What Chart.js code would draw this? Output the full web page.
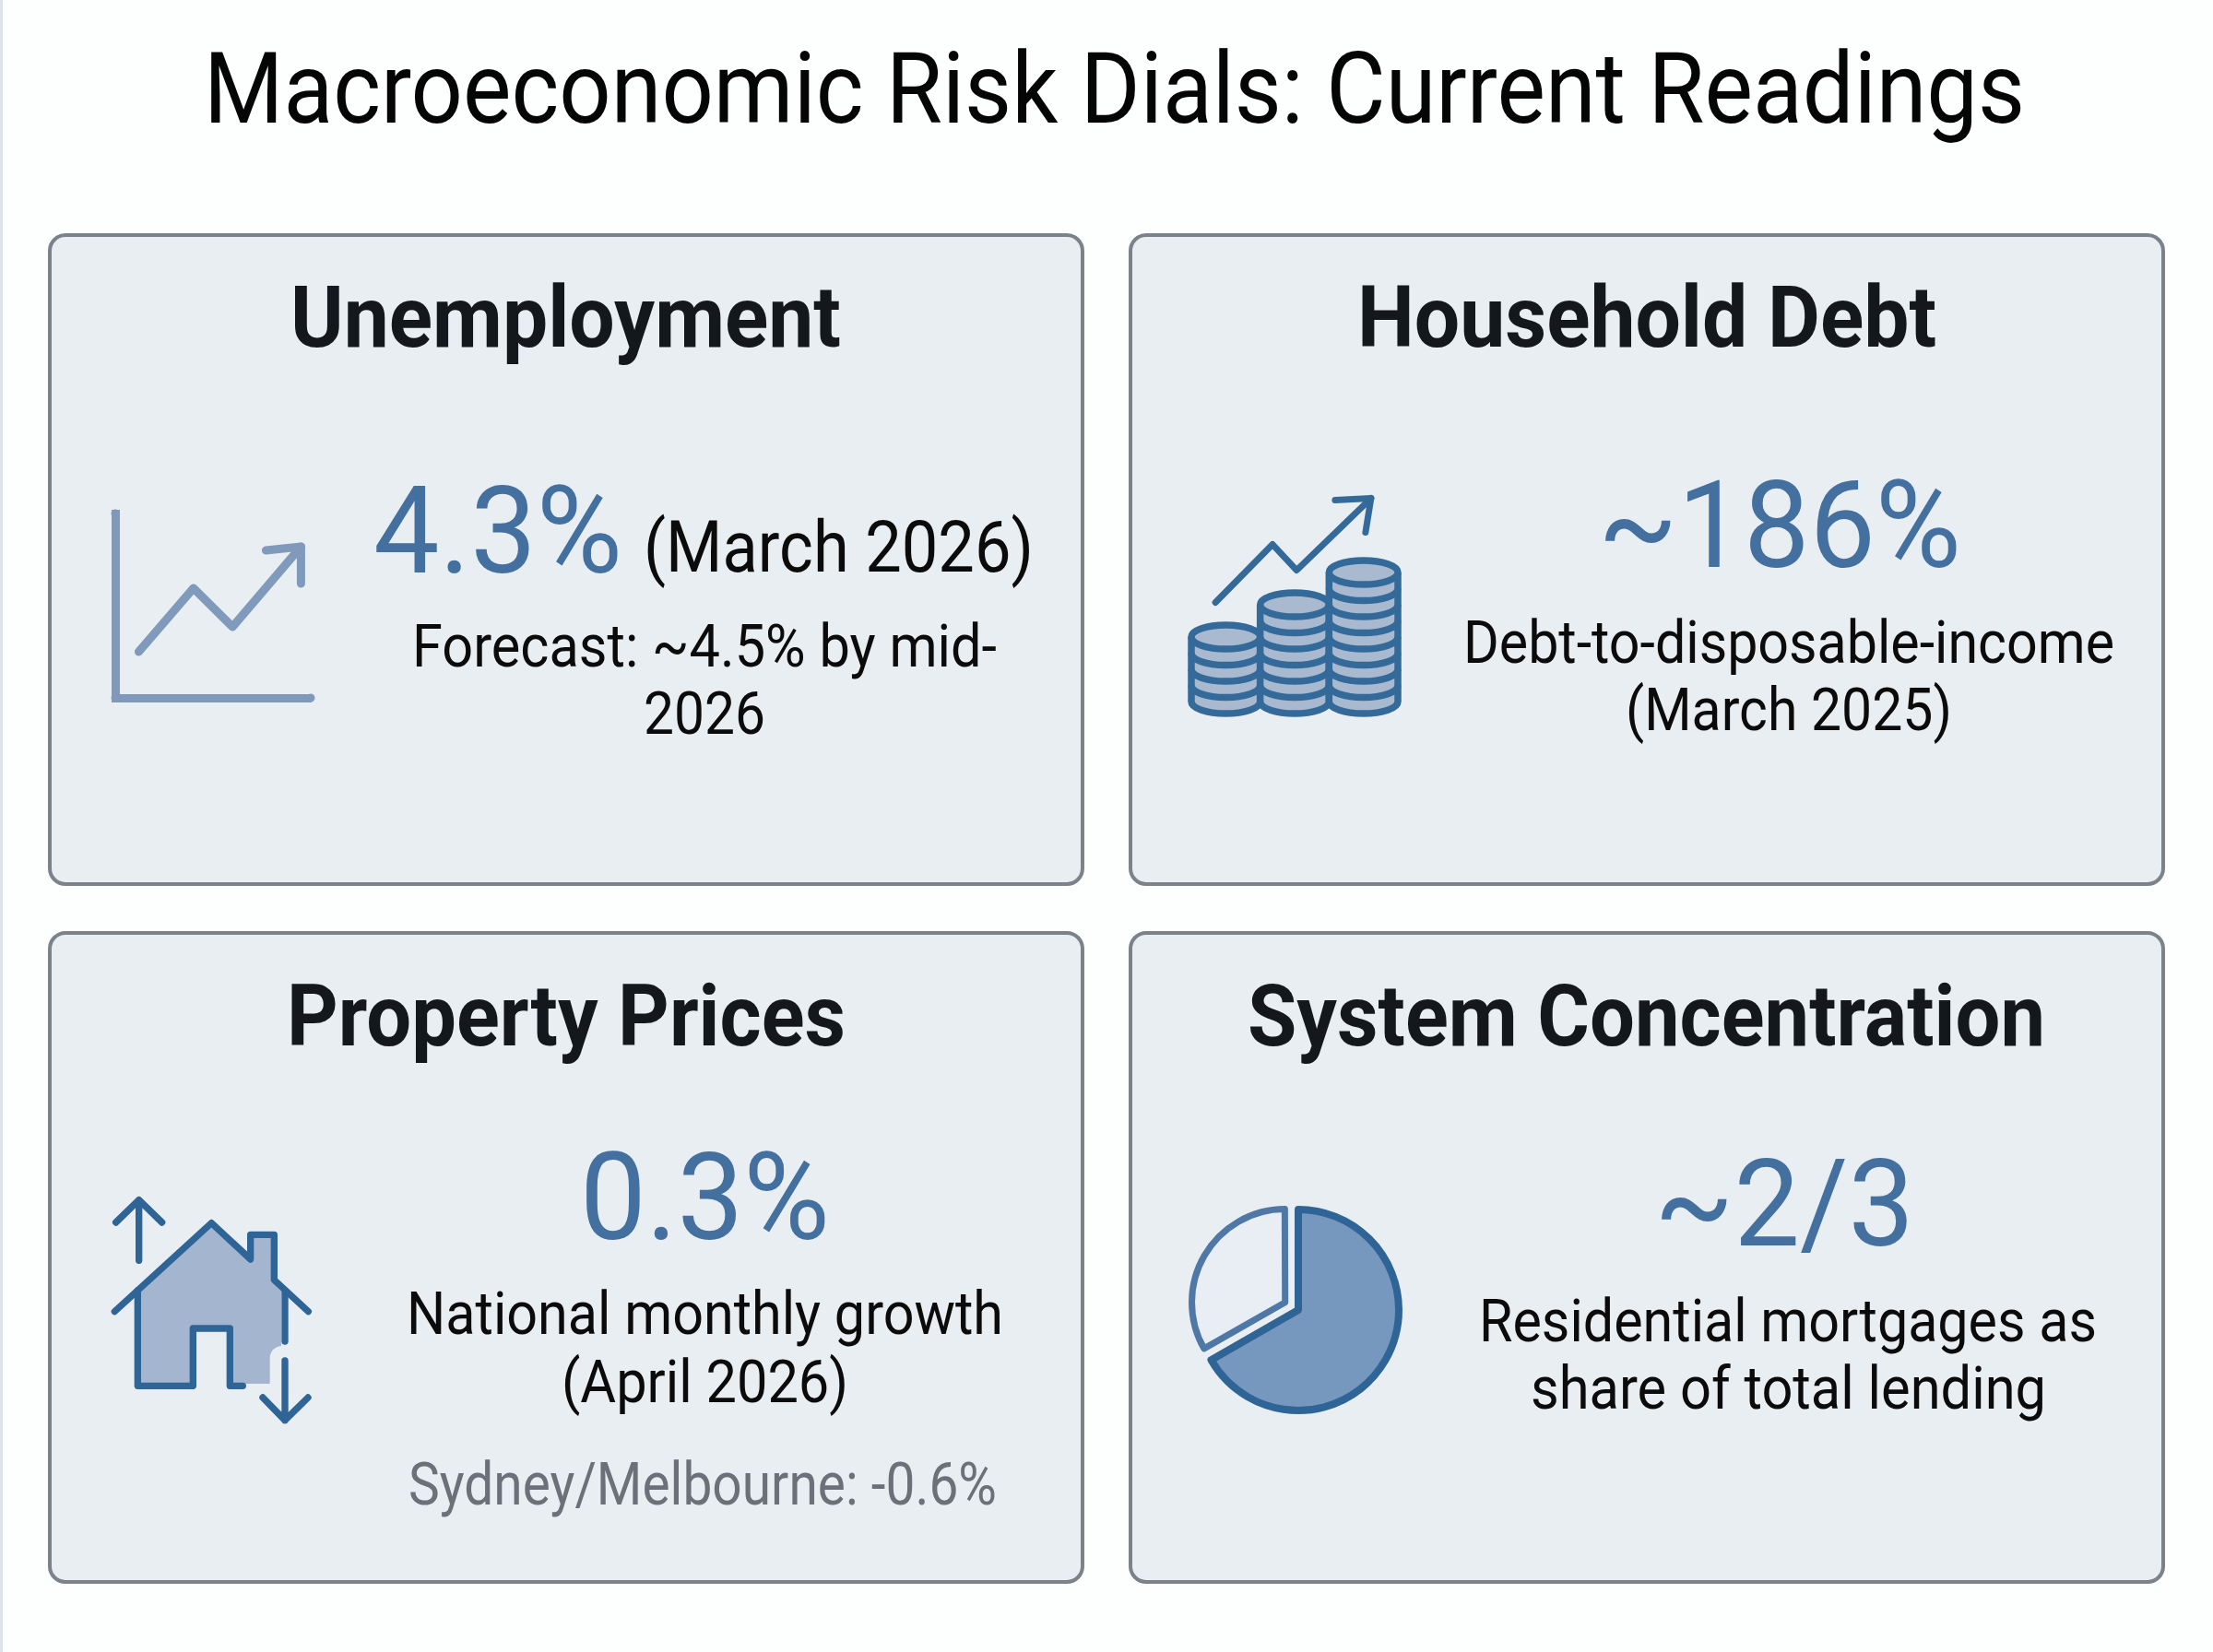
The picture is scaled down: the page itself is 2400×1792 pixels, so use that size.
<!DOCTYPE html>
<html><head><meta charset="utf-8">
<script src="https://cdn.jsdelivr.net/npm/chart.js@4/dist/chart.umd.min.js"></script>
<style>
html,body{margin:0;padding:0;background:#fdfefe;width:2400px;height:1792px;overflow:hidden}
#strip{position:absolute;left:0;top:0;width:3px;height:1792px;background:#dfe3ee}
.card{position:absolute;box-sizing:border-box;width:1124px;height:708px;background:#e9eef3;border:4px solid #7c828a;border-radius:19px}
canvas{position:absolute}
.t{position:absolute;white-space:nowrap;line-height:1;font-family:Roboto,sans-serif;transform-origin:0 0}
svg{position:absolute}
</style></head><body>
<div id="strip"></div>
<div class="card" style="left:52px;top:253px"></div>
<div class="card" style="left:1224px;top:253px"></div>
<div class="card" style="left:52px;top:1010px"></div>
<div class="card" style="left:1224px;top:1010px"></div>

<canvas id="trend" width="252" height="240" style="left:105px;top:537px;width:252px;height:240px"></canvas>
<canvas id="coins" width="264" height="295" style="left:1272px;top:496px;width:264px;height:295px"></canvas>
<canvas id="share" width="300" height="300" style="left:1258px;top:1271px;width:300px;height:300px"></canvas>

<svg style="left:90px;top:1260px" width="290" height="300" viewBox="0 0 870 900">
<path d="M178 425L418 205L545 318L555 245H612V385L645 420V600Q610 605 608 640V723H478V543H358V730H178Z" fill="#a4b5cf"/>
<g fill="none" stroke="#2f6496" stroke-width="22" stroke-linecap="round" stroke-linejoin="round">
<path d="M182 322V125M107 198L182 125L257 198"/>
<path d="M103 488L418 200L545 318V238H622V385L733 488"/>
<path d="M178 420V730H358V543H478V730H520"/>
<path d="M657 420V585"/>
<path d="M657 648V842M585 768L657 842L732 768"/>
</g></svg>

<script>
// ---- Text ----
const chartTitle = "Macroeconomic Risk Dials: Current Readings";
const cardTitles = ["Unemployment", "Household Debt", "Property Prices", "System Concentration"];
const readings = ["4.3%", "~186%", "0.3%", "~2/3"];
const readingDates = ["(March 2026)"];
const captions = ["Forecast: ~4.5% by mid-", "2026", "Debt-to-disposable-income", "(March 2025)",
  "National monthly growth", "(April 2026)", "Residential mortgages as", "share of total lending"];
const footnote = "Sydney/Melbourne: -0.6%";

// ---- Data ----
const trendX = [12, 40, 60, 95];            // Unemployment trend glyph
const trendY = [25, 59.5, 38.5, 82];
const debtStackLabels = ["a", "b", "c"];    // Household debt coin stacks
const debtStackCoins = [4, 6, 8];
const debtTrendX = [-0.15, 0.68, 1.03, 2.11];
const debtTrendY = [6.14, 9.74, 8.14, 12.6];
const shareLabels = ["Residential mortgages", "Other lending"];
const shareValues = [66.7, 33.3];

// ---- Text placement: text, left, right, baseline, size, weight, colour ----
const INK = "#0b0b0b", HEAD = "#14181c", BLUE = "#44709f", GREY = "#6b7178";
const placed = [
  [chartTitle, 221, 2196, 133, 107, 400, "#050505"],
  [cardTitles[0], 315, 912, 376, 93, 700, HEAD],
  [cardTitles[1], 1472, 2100, 376, 93, 700, HEAD],
  [cardTitles[2], 311, 917, 1134, 93, 700, HEAD],
  [cardTitles[3], 1353, 2218, 1134, 93, 700, HEAD],
  [readings[0], 405, 675, 621, 131, 400, BLUE],
  [readingDates[0], 698, 1121, 621, 77, 400, INK],
  [captions[0], 447, 1081, 724, 65, 400, INK],
  [captions[1], 698, 830, 797, 65, 400, INK],
  [readings[1], 1733, 2127, 615, 131, 400, BLUE],
  [captions[2], 1587, 2293, 719.5, 65, 400, INK],
  [captions[3], 1763, 2117, 793, 65, 400, INK],
  [readings[2], 629, 900, 1344, 131, 400, BLUE],
  [captions[4], 441, 1088, 1447.5, 65, 400, INK],
  [captions[5], 609, 920, 1521.5, 65, 400, INK],
  [footnote, 443, 1081, 1633, 65, 400, GREY],
  [readings[3], 1794, 2076, 1351, 131, 400, BLUE],
  [captions[6], 1604, 2274, 1455.5, 65, 400, INK],
  [captions[7], 1660, 2219, 1528.5, 65, 400, INK]
];
placed.forEach(([text, l, r, base, size, weight, color]) => {
  const d = document.createElement("div");
  d.className = "t";
  d.textContent = text;
  d.style.cssText = `left:${l}px;top:${base - 0.8418 * size}px;font-size:${size}px;font-weight:${weight};color:${color}`;
  document.body.appendChild(d);
  d.style.transform = `scaleX(${(r - l) / d.getBoundingClientRect().width})`;
});

// ---- Chart helpers ----
Chart.defaults.animation = false;
Chart.defaults.responsive = false;
Chart.defaults.devicePixelRatio = 1;
Chart.defaults.plugins.legend.display = false;
Chart.defaults.plugins.tooltip.enabled = false;

const arrowHead = {
  id: "arrowHead",
  afterDatasetsDraw(chart, _a, o) {
    const pts = chart.getDatasetMeta(o.dataset).data;
    const tip = pts[pts.length - 1];
    const c = chart.ctx;
    c.save();
    c.strokeStyle = o.color; c.lineWidth = o.width; c.lineCap = "round"; c.lineJoin = "round";
    c.beginPath();
    c.moveTo(tip.x + o.a[0], tip.y + o.a[1]);
    c.lineTo(tip.x, tip.y);
    c.lineTo(tip.x + o.b[0], tip.y + o.b[1]);
    c.stroke();
    c.restore();
  }
};
const axisCaps = {
  id: "axisCaps",
  beforeDatasetsDraw(chart, _a, o) {
    const { left, right, top, bottom } = chart.chartArea, c = chart.ctx;
    c.save(); c.fillStyle = o.color;
    [[left, top], [left, bottom], [right, bottom]].forEach(([x, y]) => {
      c.beginPath(); c.arc(x, y, o.r, 0, Math.PI * 2); c.fill();
    });
    c.restore();
  }
};
const coinStacks = {
  id: "coinStacks",
  afterDatasetsDraw(chart, _a, o) {
    const c = chart.ctx, y = chart.scales.y, x = chart.scales.x;
    const unit = y.getPixelForValue(0) - y.getPixelForValue(1);
    const rx = (x.getPixelForValue(1) - x.getPixelForValue(0)) / 2, ry = o.ry;
    c.save();
    c.lineWidth = o.stroke; c.strokeStyle = o.color;
    chart.getDatasetMeta(0).data.forEach((bar, i) => {
      const cx = x.getPixelForValue(i), topY = bar.y, baseY = bar.base;
      c.beginPath();
      c.moveTo(cx - rx, topY);
      c.lineTo(cx - rx, baseY);
      c.ellipse(cx, baseY, rx, ry, 0, Math.PI, 0, true);
      c.lineTo(cx + rx, topY);
      c.closePath();
      c.fillStyle = o.fill; c.fill();
      c.beginPath();
      c.moveTo(cx - rx, topY); c.lineTo(cx - rx, baseY);
      c.moveTo(cx + rx, topY); c.lineTo(cx + rx, baseY);
      c.stroke();
      for (let py = baseY; py > topY + 1; py -= unit) {
        c.beginPath(); c.ellipse(cx, py, rx, ry, 0, Math.PI, 0, true); c.stroke();
      }
      c.beginPath(); c.ellipse(cx, topY, rx, ry, 0, 0, Math.PI * 2);
      c.fill(); c.stroke();
    });
    c.restore();
  }
};
const shrinkOffsetSlice = {
  id: "shrinkOffsetSlice",
  beforeDatasetsDraw(chart, _a, o) {
    chart.getDatasetMeta(0).data[1].outerRadius = o.radius;
  }
};

// ---- Unemployment glyph ----
const TREND = "#7f9aba";
new Chart(document.getElementById("trend"), {
  type: "line",
  data: { datasets: [{
    data: trendX.map((x, i) => ({ x, y: trendY[i] })),
    borderColor: TREND, borderWidth: 9, pointRadius: 0, tension: 0,
    borderCapStyle: "round", borderJoinStyle: "round"
  }] },
  options: {
    layout: { padding: 20 },
    scales: {
      x: { type: "linear", min: 0, max: 100, ticks: { display: false },
           grid: { display: false, drawTicks: false }, border: { color: "#8099ba", width: 9 } },
      y: { min: 0, max: 100, ticks: { display: false },
           grid: { display: false, drawTicks: false }, border: { color: "#8099ba", width: 9 } }
    },
    plugins: {
      arrowHead: { dataset: 0, color: TREND, width: 9, a: [-38, 4], b: [0, 40] },
      axisCaps: { color: "#8099ba", r: 4.5 }
    }
  },
  plugins: [arrowHead, axisCaps]
});

// ---- Household debt glyph ----
const DEBT = "#336a9a";
new Chart(document.getElementById("coins"), {
  data: {
    labels: debtStackLabels,
    datasets: [
      { type: "bar", data: debtStackCoins, backgroundColor: "rgba(0,0,0,0)",
        barPercentage: 1, categoryPercentage: 1, grouped: false, order: 2 },
      { type: "line", xAxisID: "x2", order: 1,
        data: debtTrendX.map((x, i) => ({ x, y: debtTrendY[i] })),
        borderColor: DEBT, borderWidth: 7, pointRadius: 0, tension: 0,
        borderCapStyle: "round", borderJoinStyle: "round" }
    ]
  },
  options: {
    layout: { padding: { left: 20, right: 20, top: 20, bottom: 30 } },
    scales: {
      x: { display: false, offset: true },
      x2: { type: "linear", display: false, min: -0.5, max: 2.5 },
      y: { display: false, min: 0, max: 14 }
    },
    plugins: {
      arrowHead: { dataset: 1, color: DEBT, width: 7, a: [-39, 2], b: [-6, 37] },
      coinStacks: { color: DEBT, fill: "#a9b9cf", stroke: 7.5, ry: 13 }
    }
  },
  plugins: [coinStacks, arrowHead]
});

// ---- System concentration pie ----
new Chart(document.getElementById("share"), {
  type: "pie",
  data: {
    labels: shareLabels,
    datasets: [{
      data: shareValues,
      backgroundColor: ["#7698bf", "#e9eef5"],
      borderColor: ["#2f6496", "#4f78a6"],
      borderWidth: [8, 7],
      borderJoinStyle: "round",
      offset: [0, 66]
    }]
  },
  options: {
    radius: 109,
    plugins: { shrinkOffsetSlice: { radius: 99 } }
  },
  plugins: [shrinkOffsetSlice]
});
</script>
</body></html>
